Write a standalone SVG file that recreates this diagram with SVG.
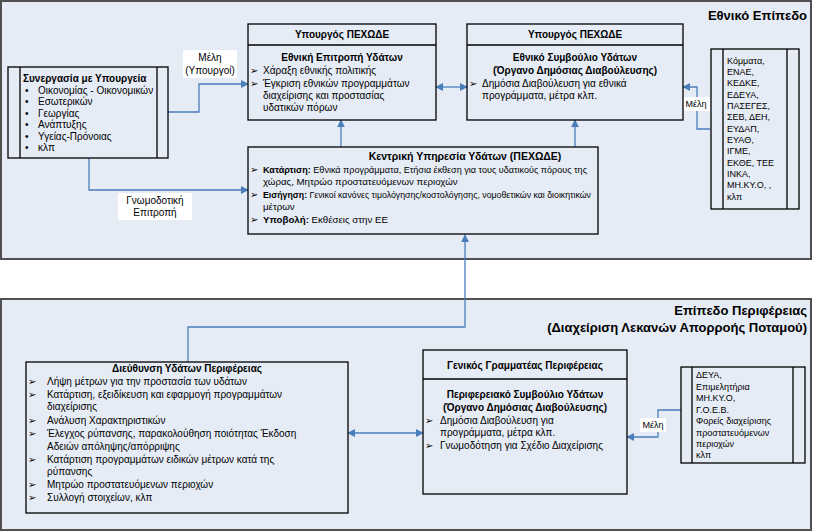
<svg xmlns="http://www.w3.org/2000/svg" width="814" height="532" viewBox="0 0 814 532">
<defs>
<marker id="ah" viewBox="0 0 10 10" refX="9" refY="5" markerWidth="8" markerHeight="8" markerUnits="userSpaceOnUse" orient="auto-start-reverse"><path d="M0,0 L10,5 L0,10 z" fill="#4a7ebb"/></marker>
<style>
.panel{fill:#e6ecf6;stroke:#505050;stroke-width:2}
.box{fill:#e6ecf6;stroke:#000;stroke-width:1.3}
.ln{fill:none;stroke:#000;stroke-width:1.3}
.c{fill:none;stroke:#4a7ebb;stroke-width:1.3}
text{font-family:"Liberation Sans",Arial,"DejaVu Sans",sans-serif;font-size:10px;fill:#000}
.b{font-weight:bold}
.t{font-weight:bold;font-size:13px}
.s{font-size:9px}
.k{font-size:9.7px}
.m{text-anchor:middle}
.e{text-anchor:end}
.lbl{fill:#fff}
</style>
</defs>
<rect class="panel" x="1" y="1" width="810" height="258"/>
<rect class="panel" x="1" y="299" width="810" height="231"/>
<text class="t e" x="807" y="20">Εθνικό Επίπεδο</text>
<text class="t e" x="807" y="315">Επίπεδο Περιφέρειας</text>
<text class="t e" x="807" y="332">(Διαχείριση Λεκανών Απορροής Ποταμού)</text>

<g id="connectors">
<path class="c" d="M168,112 H199 V84 H248" marker-end="url(#ah)"/>
<path class="c" d="M89,158 V190 H248" marker-end="url(#ah)"/>
<path class="c" d="M436,87 H467" marker-start="url(#ah)" marker-end="url(#ah)"/>
<path class="c" d="M710,129 H697 V87 H683" marker-end="url(#ah)"/>
<path class="c" d="M341,147 V120" marker-end="url(#ah)"/>
<path class="c" d="M575,147 V120" marker-end="url(#ah)"/>
<path class="c" d="M188,362 V327 H465 V235" marker-end="url(#ah)"/>
<path class="c" d="M348,433 H423" marker-start="url(#ah)" marker-end="url(#ah)"/>
<path class="c" d="M681,410 H658 V437 H627" marker-end="url(#ah)"/>
<rect class="lbl" x="183" y="50" width="54" height="28"/>
<text class="m" x="210" y="61">Μέλη</text>
<text class="m" x="210" y="74">(Υπουργοί)</text>
<rect class="lbl" x="118" y="193" width="74" height="27"/>
<text class="m" x="155" y="204">Γνωμοδοτική</text>
<text class="m" x="155" y="216">Επιτροπή</text>
<rect class="lbl" x="683" y="97" width="27" height="14"/>
<text class="s m" x="696" y="107">Μέλη</text>
<rect class="lbl" x="640" y="418" width="26" height="14"/>
<text class="s m" x="653" y="428">Μέλη</text>
</g>

<g id="n-ypourgeia">
<rect class="box" x="8" y="67" width="160" height="91"/>
<path class="ln" d="M20,67 V158 M157,67 V158"/>
<text class="b" x="23" y="82">Συνεργασία με Υπουργεία</text>
<text x="25" y="94">•</text><text x="38" y="94">Οικονομίας - Οικονομικών</text>
<text x="25" y="105">•</text><text x="38" y="105">Εσωτερικών</text>
<text x="25" y="117">•</text><text x="38" y="117">Γεωργίας</text>
<text x="25" y="128">•</text><text x="38" y="128">Ανάπτυξης</text>
<text x="25" y="140">•</text><text x="38" y="140">Υγείας-Πρόνοιας</text>
<text x="25" y="151">•</text><text x="38" y="151">κλπ</text>
</g>

<g id="n-epitropi">
<rect class="box" x="248" y="24" width="188" height="96"/>
<path class="ln" d="M248,45 H436"/>
<text class="b m" x="342" y="38">Υπουργός ΠΕΧΩΔΕ</text>
<text class="b m" x="342" y="61">Εθνική Επιτροπή Υδάτων</text>
<text x="250" y="74">➢</text><text x="263" y="74">Χάραξη εθνικής πολιτικής</text>
<text x="250" y="87">➢</text><text x="263" y="87">Έγκριση εθνικών προγραμμάτων</text>
<text x="263" y="99">διαχείρισης και προστασίας</text>
<text x="263" y="111">υδατικών πόρων</text>
</g>

<g id="n-symvoulio">
<rect class="box" x="467" y="24" width="216" height="96"/>
<path class="ln" d="M467,45 H683"/>
<text class="b m" x="575" y="38">Υπουργός ΠΕΧΩΔΕ</text>
<text class="b m" x="575" y="61">Εθνικό Συμβούλιο Υδάτων</text>
<text class="b m" x="575" y="74">(Όργανο Δημόσιας Διαβούλευσης)</text>
<text x="469" y="87">➢</text><text x="482" y="87">Δημόσια Διαβούλευση για εθνικά</text>
<text x="482" y="99">προγράμματα, μέτρα κλπ.</text>
</g>

<g id="n-foreis">
<rect class="box" x="711" y="49" width="88" height="160"/>
<path class="ln" d="M723,49 V209 M787,49 V209"/>
<text class="s" x="727" y="64">Κόμματα,</text>
<text class="s" x="727" y="75">ΕΝΑΕ,</text>
<text class="s" x="727" y="86">ΚΕΔΚΕ,</text>
<text class="s" x="727" y="98">ΕΔΕΥΑ,</text>
<text class="s" x="727" y="109">ΠΑΣΕΓΕΣ,</text>
<text class="s" x="727" y="120">ΣΕΒ, ΔΕΗ,</text>
<text class="s" x="727" y="132">ΕΥΔΑΠ,</text>
<text class="s" x="727" y="143">ΕΥΑΘ,</text>
<text class="s" x="727" y="154">ΙΓΜΕ,</text>
<text class="s" x="727" y="166">ΕΚΘΕ, ΤΕΕ</text>
<text class="s" x="727" y="177">ΙΝΚΑ,</text>
<text class="s" x="727" y="188">ΜΗ.ΚΥ.Ο, ,</text>
<text class="s" x="727" y="200">κλπ</text>
</g>

<g id="n-kentriki">
<rect class="box" x="248" y="147" width="350" height="87"/>
<text class="b m" x="465" y="160" style="font-size:10.5px">Κεντρική Υπηρεσία Υδάτων (ΠΕΧΩΔΕ)</text>
<text x="250" y="173">➢</text><text class="k" x="263" y="173" textLength="324" lengthAdjust="spacingAndGlyphs"><tspan class="b">Κατάρτιση:</tspan> Εθνικά προγράμματα, Ετήσια έκθεση για τους υδατικούς πόρους της</text>
<text class="k" x="263" y="185">χώρας, Μητρώο προστατευόμενων περιοχών</text>
<text x="250" y="198">➢</text><text class="k" x="263" y="198" textLength="328" lengthAdjust="spacingAndGlyphs"><tspan class="b">Εισήγηση:</tspan> Γενικοί κανόνες τιμολόγησης/κοστολόγησης, νομοθετικών και διοικητικών</text>
<text class="k" x="263" y="210">μέτρων</text>
<text x="250" y="223">➢</text><text class="k" x="263" y="223"><tspan class="b">Υποβολή:</tspan> Εκθέσεις στην ΕΕ</text>
</g>

<g id="n-dieuthynsi">
<rect class="box" x="26" y="362" width="322" height="151"/>
<text class="b m" x="187" y="372">Διεύθυνση Υδάτων Περιφέρειας</text>
<text x="28" y="385">➢</text><text x="47" y="385">Λήψη μέτρων για την προστασία των υδάτων</text>
<text x="28" y="398">➢</text><text x="47" y="398">Κατάρτιση, εξειδίκευση και εφαρμογή προγραμμάτων</text>
<text x="47" y="410">διαχείρισης</text>
<text x="28" y="424">➢</text><text x="47" y="424">Ανάλυση Χαρακτηριστικών</text>
<text x="28" y="437">➢</text><text x="47" y="437">Έλεγχος ρύπανσης, παρακολούθηση ποιότητας Έκδοση</text>
<text x="47" y="450">Αδειών απόληψης/απόρριψης</text>
<text x="28" y="463">➢</text><text x="47" y="463">Κατάρτιση προγραμμάτων ειδικών μέτρων κατά της</text>
<text x="47" y="475">ρύπανσης</text>
<text x="28" y="488">➢</text><text x="47" y="488">Μητρώο προστατευόμενων περιοχών</text>
<text x="28" y="501">➢</text><text x="47" y="501">Συλλογή στοιχείων, κλπ</text>
</g>

<g id="n-perifereiako">
<rect class="box" x="423" y="350" width="204" height="144"/>
<path class="ln" d="M423,379 H627"/>
<text class="b m" x="525" y="369">Γενικός Γραμματέας Περιφέρειας</text>
<text class="b m" x="525" y="398">Περιφερειακό Συμβούλιο Υδάτων</text>
<text class="b m" x="525" y="411">(Όργανο Δημόσιας Διαβούλευσης)</text>
<text x="425" y="424">➢</text><text x="440" y="424">Δημόσια Διαβούλευση για</text>
<text x="440" y="436">προγράμματα, μέτρα κλπ.</text>
<text x="425" y="449">➢</text><text x="440" y="449">Γνωμοδότηση για Σχέδιο Διαχείρισης</text>
</g>

<g id="n-foreis-perif">
<rect class="box" x="681" y="367" width="124" height="96"/>
<path class="ln" d="M692,367 V463 M793,367 V463"/>
<text class="s" x="696" y="378">ΔΕΥΑ,</text>
<text class="s" x="696" y="390">Επιμελητήρια</text>
<text class="s" x="696" y="401">ΜΗ.ΚΥ.Ο,</text>
<text class="s" x="696" y="413">Γ.Ο.Ε.Β.</text>
<text class="s" x="696" y="424">Φορείς διαχείρισης</text>
<text class="s" x="696" y="436">προστατευόμενων</text>
<text class="s" x="696" y="447">περιοχών</text>
<text class="s" x="696" y="458">κλπ</text>
</g>
</svg>
